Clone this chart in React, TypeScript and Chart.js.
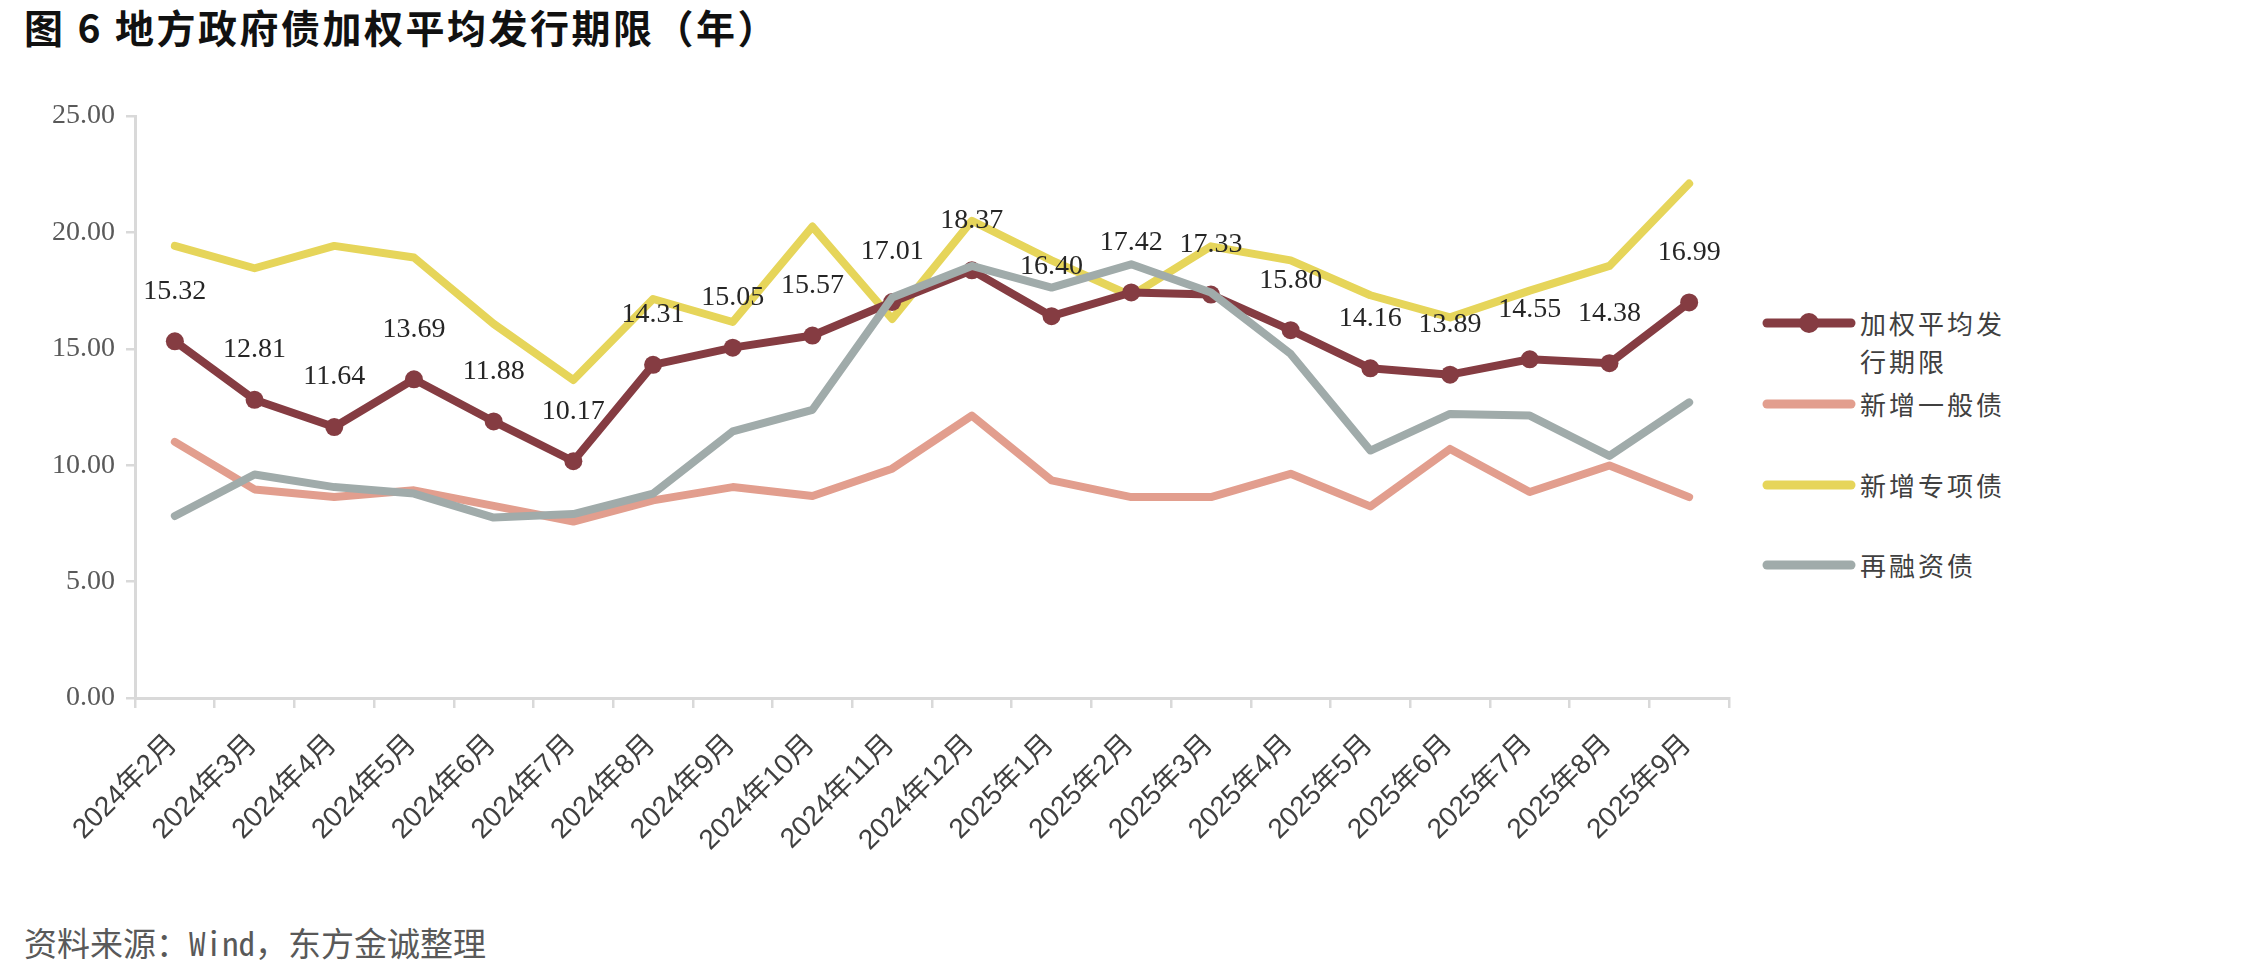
import React, { useEffect, useRef } from "react";
import { Chart, registerables } from "chart.js";

Chart.register(...registerables);

const categories = [
  "2024年2月", "2024年3月", "2024年4月", "2024年5月", "2024年6月", "2024年7月",
  "2024年8月", "2024年9月", "2024年10月", "2024年11月", "2024年12月",
  "2025年1月", "2025年2月", "2025年3月", "2025年4月", "2025年5月", "2025年6月",
  "2025年7月", "2025年8月", "2025年9月",
];
const weightedAvg = [15.32, 12.81, 11.64, 13.69, 11.88, 10.17, 14.31, 15.05, 15.57, 17.01, 18.37, 16.4, 17.42, 17.33, 15.8, 14.16, 13.89, 14.55, 14.38, 16.99];
const newGeneral = [11.0, 8.96, 8.63, 8.92, 8.25, 7.58, 8.49, 9.06, 8.68, 9.85, 12.13, 9.35, 8.63, 8.63, 9.63, 8.23, 10.7, 8.85, 9.99, 8.63];
const newSpecial = [19.42, 18.46, 19.42, 18.92, 16.07, 13.66, 17.14, 16.15, 20.25, 16.28, 20.5, 18.8, 17.28, 19.4, 18.8, 17.3, 16.35, 17.5, 18.56, 22.1];
const refinancing = [7.82, 9.6, 9.06, 8.78, 7.75, 7.9, 8.78, 11.45, 12.38, 17.2, 18.56, 17.63, 18.63, 17.42, 14.78, 10.63, 12.2, 12.13, 10.4, 12.7];
const yTicks = [0, 5, 10, 15, 20, 25];

const seriesNames = ["加权平均发行期限", "新增一般债", "新增专项债", "再融资债"];
const seriesColors = ["#853C42", "#E29E8E", "#E6D55A", "#A0ABAA"];

const labelPlugin = {
  id: "valueLabels",
  afterDatasetsDraw(chart: any) {
    const ctx = chart.ctx;
    const meta = chart.getDatasetMeta(0);
    ctx.save();
    ctx.font = '28px "Liberation Serif", "DejaVu Serif", serif';
    ctx.fillStyle = "#262626";
    ctx.textAlign = "center";
    ctx.textBaseline = "middle";
    meta.data.forEach((pt: any, i: number) => {
      ctx.fillText(weightedAvg[i].toFixed(2), pt.x, pt.y - 50);
    });
    ctx.restore();
  },
};

export default function App() {
  const canvasRef = useRef<HTMLCanvasElement | null>(null);

  useEffect(() => {
    if (!canvasRef.current) return;
    const chart = new Chart(canvasRef.current, {
      type: "line",
      data: {
        labels: categories,
        datasets: [
          {
            label: seriesNames[0],
            data: weightedAvg,
            borderColor: seriesColors[0],
            backgroundColor: seriesColors[0],
            borderWidth: 8,
            pointRadius: 9,
            pointHoverRadius: 9,
            pointBorderWidth: 0,
            pointBackgroundColor: seriesColors[0],
            order: 2,
          },
          {
            label: seriesNames[1],
            data: newGeneral,
            borderColor: seriesColors[1],
            backgroundColor: seriesColors[1],
            borderWidth: 8,
            pointRadius: 0,
            order: 3,
          },
          {
            label: seriesNames[2],
            data: newSpecial,
            borderColor: seriesColors[2],
            backgroundColor: seriesColors[2],
            borderWidth: 8,
            pointRadius: 0,
            order: 4,
          },
          {
            label: seriesNames[3],
            data: refinancing,
            borderColor: seriesColors[3],
            backgroundColor: seriesColors[3],
            borderWidth: 8,
            pointRadius: 0,
            order: 1,
          },
        ],
      },
      options: {
        animation: false,
        responsive: false,
        maintainAspectRatio: false,
        layout: { padding: { left: 0, top: 116, right: 11, bottom: 0 } },
        plugins: {
          legend: { display: false },
          tooltip: { enabled: false },
        },
        elements: { line: { tension: 0, borderCapStyle: "round", borderJoinStyle: "round" } },
        scales: {
          x: {
            offset: true,
            grid: {
              offset: true,
              drawOnChartArea: false,
              drawTicks: true,
              tickLength: 10,
              color: "#D9D9D9",
              lineWidth: 2.5,
            },
            border: { color: "#D9D9D9", width: 3 },
            ticks: {
              autoSkip: false,
              maxRotation: 45,
              minRotation: 45,
              color: "#404040",
              padding: 20,
              labelOffset: -2,
              font: { family: '"Liberation Sans", "Noto Sans CJK SC", sans-serif', size: 28 },
            },
            afterFit: (scale: any) => {
              scale.height = 182;
            },
          },
          y: {
            min: 0,
            max: 25,
            afterBuildTicks: (scale: any) => {
              scale.ticks = yTicks.map((v) => ({ value: v }));
            },
            grid: {
              drawOnChartArea: false,
              drawTicks: true,
              tickLength: 9,
              color: "#D9D9D9",
              lineWidth: 2.5,
            },
            border: { color: "#D9D9D9", width: 3 },
            ticks: {
              color: "#595959",
              padding: 11,
              font: { family: '"Liberation Serif", "DejaVu Serif", serif', size: 28 },
              callback: (v: any) => Number(v).toFixed(2),
            },
            afterFit: (scale: any) => {
              scale.width = 135;
            },
          },
        },
      },
      plugins: [labelPlugin],
    });
    return () => chart.destroy();
  }, []);

  const legendTops = [323, 404, 485, 565];

  return (
    <div
      style={{
        position: "fixed",
        left: 0,
        top: 0,
        width: 2244,
        height: 975,
        background: "#ffffff",
        overflow: "hidden",
      }}
    >
      <div
        style={{
          position: "absolute",
          left: 24,
          top: 4,
          height: 44,
          lineHeight: "44px",
          fontFamily: '"Noto Sans CJK SC", sans-serif',
          fontWeight: 700,
          fontSize: 39,
          letterSpacing: 2.5,
          color: "#111",
          whiteSpace: "nowrap",
        }}
      >
        图<span style={{ margin: "0 12px" }}>6</span>地方政府债加权平均发行期限（年）
      </div>
      <canvas
        ref={canvasRef}
        width={1740}
        height={880}
        style={{ position: "absolute", left: 0, top: 0, width: 1740, height: 880 }}
      />
      {seriesNames.map((name, i) => (
        <div key={name}>
          <svg
            width={100}
            height={24}
            style={{ position: "absolute", left: 1758, top: legendTops[i] - 12 }}
          >
            <line
              x1={9}
              y1={12}
              x2={93}
              y2={12}
              stroke={seriesColors[i]}
              strokeWidth={9}
              strokeLinecap="round"
            />
            {i === 0 ? <circle cx={51} cy={12} r={10} fill={seriesColors[i]} /> : null}
          </svg>
          <div
            style={{
              position: "absolute",
              left: 1860,
              top: legendTops[i] - 19,
              width: 150,
              lineHeight: "38px",
              fontFamily: '"Noto Sans CJK SC", sans-serif',
              fontSize: 26,
              letterSpacing: 3,
              color: "#404040",
            }}
          >
            {name}
          </div>
        </div>
      ))}
      <div
        style={{
          position: "absolute",
          left: 24,
          top: 922,
          height: 40,
          lineHeight: "40px",
          fontFamily: '"Noto Sans Mono CJK SC", "Noto Sans CJK SC", monospace',
          fontSize: 33,
          color: "#595959",
          whiteSpace: "nowrap",
        }}
      >
        资料来源：Wind，东方金诚整理
      </div>
    </div>
  );
}
